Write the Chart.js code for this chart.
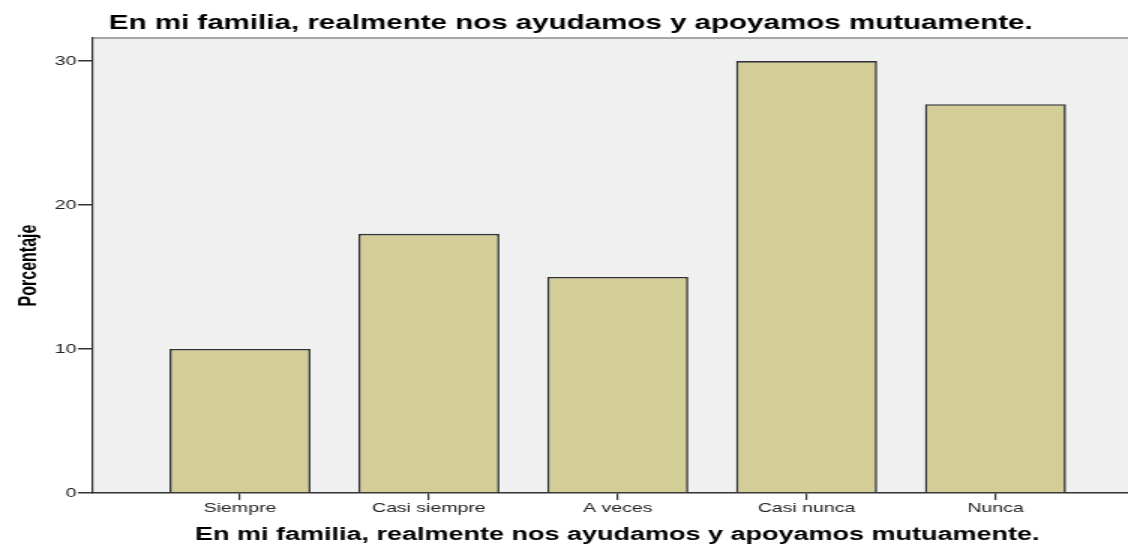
<!DOCTYPE html>
<html>
<head>
<meta charset="utf-8">
<script src="https://cdn.jsdelivr.net/npm/chart.js@4"></script>
<style>
  html, body { margin: 0; padding: 0; background: #fff; overflow: hidden; }
  /* the original picture is stretched sideways, so the chart is drawn narrow and widened */
  #wrap { width: 761px; height: 544px; transform: scaleX(1.5); transform-origin: 0 0; }
</style>
</head>
<body>
<div id="wrap"><canvas id="chart" width="761" height="544"></canvas></div>
<script>
const categories = ['Siempre', 'Casi siempre', 'A veces', 'Casi nunca', 'Nunca'];
const percentages = [10, 18, 15, 30, 27];
const yTicks = [0, 10, 20, 30];
const titleText = 'En mi familia, realmente nos ayudamos y apoyamos mutuamente.';

const FONT = "'Liberation Sans', Arial, sans-serif";

// grey plot background with a thin top border
const plotBackground = {
    id: 'plotBackground',
    beforeDraw(chart) {
        const { ctx, chartArea: a } = chart;
        ctx.save();
        ctx.fillStyle = '#f0f0f0';
        ctx.fillRect(a.left, a.top, a.right - a.left, a.bottom - a.top);
        ctx.strokeStyle = '#8a8a8a';
        ctx.lineWidth = 1.5;
        ctx.beginPath();
        ctx.moveTo(a.left, a.top);
        ctx.lineTo(a.right, a.top);
        ctx.stroke();
        ctx.restore();
    }
};

new Chart(document.getElementById('chart'), {
    type: 'bar',
    data: {
        datasets: [{
            data: percentages.map((v, i) => ({ x: i + 1, y: v })),
            backgroundColor: '#d3ce98',
            borderColor: '#333',
            borderWidth: 1.6,
            borderSkipped: 'start',
            barPercentage: 1,
            categoryPercentage: 0.747
        }]
    },
    options: {
        responsive: false,
        animation: false,
        layout: { padding: 0 },
        plugins: {
            legend: { display: false },
            tooltip: { enabled: false },
            title: {
                display: true,
                text: titleText,
                color: '#000',
                font: { family: FONT, size: 19.7, weight: 'bold', lineHeight: 1.2 },
                padding: { top: 12, bottom: 2.36 }
            }
        },
        scales: {
            x: {
                type: 'linear',
                offset: false,
                min: 0.2216,
                max: 5.773,
                afterFit: s => { s.height = 51; },
                ticks: {
                    stepSize: 1,
                    includeBounds: false,
                    autoSkip: false,
                    maxRotation: 0,
                    padding: 1,
                    color: '#222',
                    font: { family: FONT, size: 13 },
                    callback: v => categories[v - 1] || ''
                },
                grid: { offset: false, drawOnChartArea: false, tickLength: 7, color: '#333', lineWidth: 1.2 },
                border: { color: '#333', width: 1.5 },
                title: {
                    display: true,
                    text: titleText,
                    color: '#000',
                    font: { family: FONT, size: 18, weight: 'bold', lineHeight: 1 },
                    padding: { top: 0, bottom: 0 }
                }
            },
            y: {
                min: 0,
                max: 31.6,
                afterFit: s => { s.width = 62; },
                afterBuildTicks: s => { s.ticks = yTicks.map(v => ({ value: v })); },
                ticks: {
                    padding: 1,
                    color: '#222',
                    font: { family: FONT, size: 13 }
                },
                grid: { drawOnChartArea: false, tickLength: 10, color: '#333', lineWidth: 1.5 },
                border: { color: '#333', width: 1.2 },
                title: {
                    display: true,
                    text: 'Porcentaje',
                    color: '#000',
                    font: { family: FONT, size: 16, weight: 'bold', lineHeight: 1.2 },
                    padding: { top: 10, bottom: 0 }
                }
            }
        }
    },
    plugins: [plotBackground]
});
</script>
</body>
</html>
